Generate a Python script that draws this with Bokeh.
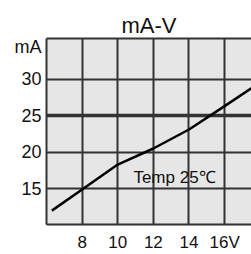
from bokeh.plotting import figure
from bokeh.models import FixedTicker, LinearAxis, Label, Grid, Range1d
from bokeh.embed import file_html
from bokeh.resources import INLINE

# data
volts = [6.3, 8, 10, 12, 14, 16, 17.6]
milliamps = [12.0, 14.9, 18.3, 20.5, 23.1, 26.3, 28.9]
x_ticks = [8, 10, 12, 14, 16]
x_tick_labels = ["8", "10", "12", "14", "16V"]
y_ticks = [15, 20, 25, 30]
y_tick_labels = ["15", "20", "25", "30"]
y_unit_pos = 34.4
y_unit_label = "mA"
title_text = "mA-V"
note_text = "Temp 25\u2103"

FONT = "Liberation Sans"
GRID = "#333333"

p = figure(width=251, height=254, output_backend="svg", toolbar_location=None,
           x_range=Range1d(6.0, 17.51), y_range=Range1d(10.1, 35.55),
           min_border_left=46, min_border_right=0, min_border_top=38, min_border_bottom=27,
           background_fill_color="#e6e6e6", border_fill_color="white",
           outline_line_color=None, title=title_text)

p.title.align = "center"
p.title.text_font = FONT
p.title.text_font_size = "22px"
p.title.text_font_style = "normal"
p.title.text_color = "#111111"
p.title.standoff = 2

p.grid.visible = False
p.add_layout(Grid(dimension=0, ticker=FixedTicker(ticks=x_ticks), grid_line_color=GRID, grid_line_width=2))
p.add_layout(Grid(dimension=1, ticker=FixedTicker(ticks=[t for t in y_ticks if t != 25]), grid_line_color=GRID, grid_line_width=2))
p.add_layout(Grid(dimension=1, ticker=FixedTicker(ticks=[25]), grid_line_color=GRID, grid_line_width=3.5))

xa = p.xaxis[0]
xa.ticker = FixedTicker(ticks=x_ticks)
xa.major_label_overrides = {t: l for t, l in zip(x_ticks, x_tick_labels)}
xa.major_label_text_align = "left"
xa.major_label_standoff = 8

ya = p.yaxis[0]
ya.ticker = FixedTicker(ticks=y_ticks + [y_unit_pos])
ya.major_label_overrides = {**{t: l for t, l in zip(y_ticks, y_tick_labels)}, y_unit_pos: y_unit_label}
ya.major_label_standoff = 5

for ax in (xa, ya):
    ax.axis_line_color = GRID
    ax.axis_line_width = 2
    ax.major_tick_out = 0
    ax.major_tick_in = 0
    ax.minor_tick_out = 0
    ax.minor_tick_in = 0
    ax.major_label_text_font = FONT
    ax.major_label_text_font_size = "17px"
    ax.major_label_text_color = "#111111"
ya.major_label_text_font_size = "18px"

top = LinearAxis(ticker=FixedTicker(ticks=[]), axis_line_color=GRID, axis_line_width=2,
                 major_tick_out=0, minor_tick_out=0, major_label_text_font_size="0px",
                 major_label_standoff=0)
p.add_layout(top, "above")

p.line(volts, milliamps, line_color="black", line_width=2.5)

p.add_layout(Label(x=10.88, y=16.5, text=note_text, text_font=FONT, text_font_size="17px",
                   text_color="#111111", text_baseline="alphabetic"))

open("out.html", "w").write(file_html(p, INLINE))
